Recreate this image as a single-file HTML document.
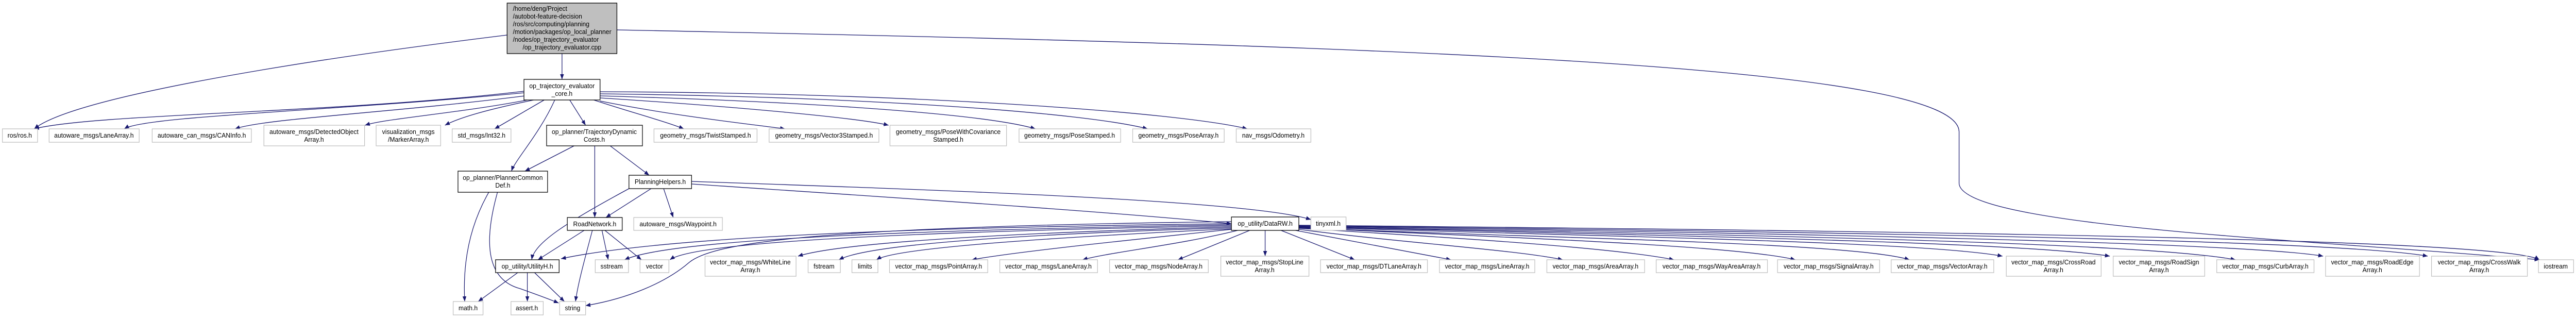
<!DOCTYPE html>
<html><head><meta charset="utf-8"><style>
html,body{margin:0;padding:0;background:#fff;width:100%;height:100%;overflow:hidden;}
svg{display:block;position:absolute;left:0;top:0;}
text{font-family:"Liberation Sans",sans-serif;font-size:13px;fill:#000;}
.l{fill:#fff;stroke:#bfbfbf;stroke-width:1.3}
.d{fill:#fff;stroke:#000;stroke-width:1.3}
.e{fill:none;stroke:#191970;stroke-width:1.3;marker-end:url(#a)}
</style></head><body>
<svg width="100%" height="100%" viewBox="0 0 5349 617" preserveAspectRatio="none" xmlns="http://www.w3.org/2000/svg">
<defs><marker id="a" markerUnits="userSpaceOnUse" markerWidth="11" markerHeight="8" refX="10" refY="4" orient="auto"><path d="M0,0 L10,4 L0,8 z" fill="#191970"/></marker></defs>
<path class="e" d="M1167,104 L1167,154"/>
<path class="e" d="M1053,68 C600,120 150,190 71,250"/>
<path class="e" d="M1281,58 C3000,90 4068,130 4068,256 L4068,355 C4068,440 4800,465 5273,504"/>
<path class="e" d="M1088,177 C700,220 200,220 71,250"/>
<path class="e" d="M1088,180 C700,215 300,225 258,250"/>
<path class="e" d="M1090,186 C800,220 550,230 488,250"/>
<path class="e" d="M1095,194 C950,220 800,230 758,243"/>
<path class="e" d="M1108,194 C1000,215 950,230 924,243"/>
<path class="e" d="M1130,194 L1027,250"/>
<path class="e" d="M1152,194 C1120,260 1070,310 1062,332"/>
<path class="e" d="M1183,194 L1216,243"/>
<path class="e" d="M1233,194 C1300,215 1380,235 1420,250"/>
<path class="e" d="M1246,196 C1400,225 1550,240 1630,250"/>
<path class="e" d="M1246,190 C1500,205 1780,228 1845,243"/>
<path class="e" d="M1246,186 C1700,198 2050,222 2150,250"/>
<path class="e" d="M1246,182 C1800,188 2250,218 2383,250"/>
<path class="e" d="M1246,178 C1900,180 2450,218 2590,250"/>
<path class="e" d="M1192,283 L1090,332"/>
<path class="e" d="M1235,283 L1235,422"/>
<path class="e" d="M1267,283 L1348,340"/>
<path class="e" d="M1352,366 L1258,422"/>
<path class="e" d="M1378,366 L1398,422"/>
<path class="e" d="M1306,366 C1180,430 1110,470 1104,504"/>
<path class="e" d="M1436,357 C1800,380 2300,410 2557,434"/>
<path class="e" d="M1436,352 C2000,370 2600,390 2722,426"/>
<path class="e" d="M1213,447 L1117,504"/>
<path class="e" d="M1250,447 L1263,504"/>
<path class="e" d="M1256,447 L1332,504"/>
<path class="e" d="M1230,447 C1215,500 1200,550 1195,585"/>
<path class="e" d="M1075,529 L993,585"/>
<path class="e" d="M1095,529 L1095,585"/>
<path class="e" d="M1110,529 L1172,585"/>
<path class="e" d="M1015,373 C980,430 960,500 965,585"/>
<path class="e" d="M1033,373 C1010,450 1000,540 1080,560 C1110,570 1140,580 1160,588"/>
<path class="e" d="M2557,434 C2000,440 1400,455 1165,502"/>
<path class="e" d="M2557,436 C2000,445 1400,460 1297,504"/>
<path class="e" d="M2557,438 C2000,448 1450,465 1391,504"/>
<path class="e" d="M2557,440 C2100,452 1750,470 1657,497"/>
<path class="e" d="M2557,442 C2100,455 1800,475 1742,504"/>
<path class="e" d="M2557,444 C2200,460 1860,480 1820,504"/>
<path class="e" d="M2557,430 C1700,440 1480,470 1430,510 C1380,550 1300,580 1216,593"/>
<path class="e" d="M2557,445 C2300,470 2100,490 2018,504"/>
<path class="e" d="M2570,447 C2450,475 2300,490 2248,504"/>
<path class="e" d="M2595,447 L2446,504"/>
<path class="e" d="M2627,447 L2627,497"/>
<path class="e" d="M2660,447 L2813,504"/>
<path class="e" d="M2690,447 L3013,504"/>
<path class="e" d="M2697,445 C2900,470 3150,485 3245,504"/>
<path class="e" d="M2697,443 C3000,460 3350,480 3476,504"/>
<path class="e" d="M2697,442 C3100,460 3600,475 3728,504"/>
<path class="e" d="M2697,442 C3200,462 3850,470 3965,504"/>
<path class="e" d="M2697,441 C3400,460 4000,470 4158,497"/>
<path class="e" d="M2697,440 C3500,458 4200,470 4381,497"/>
<path class="e" d="M2697,440 C3600,455 4450,470 4642,504"/>
<path class="e" d="M2697,439 C3700,452 4650,470 4824,497"/>
<path class="e" d="M2697,438 C3800,450 4850,465 5041,497"/>
<path class="e" d="M2697,437 C3900,448 5200,462 5273,504"/>
<rect x="1053" y="6" width="228" height="98" fill="#bfbfbf" stroke="#000" stroke-width="1.3"/>
<text x="1065" y="21">/home/deng/Project</text>
<text x="1065" y="36">/autobot-feature-decision</text>
<text x="1065" y="51">/ros/src/computing/planning</text>
<text x="1065" y="66">/motion/packages/op_local_planner</text>
<text x="1065" y="81">/nodes/op_trajectory_evaluator</text>
<text x="1167" y="96" text-anchor="middle">/op_trajectory_evaluator.cpp</text>
<rect class="d" x="1088" y="154" width="158" height="40"/>
<text x="1167" y="171" text-anchor="middle">op_trajectory_evaluator</text>
<text x="1167" y="186" text-anchor="middle">_core.h</text>
<g text-anchor="middle">
<rect class="l" x="5" y="250" width="73" height="26"/><text x="41" y="267">ros/ros.h</text>
<rect class="l" x="102" y="250" width="187" height="26"/><text x="195" y="267">autoware_msgs/LaneArray.h</text>
<rect class="l" x="316" y="250" width="206" height="26"/><text x="419" y="267">autoware_can_msgs/CANInfo.h</text>
<rect class="l" x="939" y="250" width="122" height="26"/><text x="1000" y="267">std_msgs/Int32.h</text>
<rect class="l" x="1358" y="250" width="214" height="26"/><text x="1465" y="267">geometry_msgs/TwistStamped.h</text>
<rect class="l" x="1597" y="250" width="228" height="26"/><text x="1711" y="267">geometry_msgs/Vector3Stamped.h</text>
<rect class="l" x="2116" y="250" width="211" height="26"/><text x="2221" y="267">geometry_msgs/PoseStamped.h</text>
<rect class="l" x="2352" y="250" width="190" height="26"/><text x="2447" y="267">geometry_msgs/PoseArray.h</text>
<rect class="l" x="2567" y="250" width="155" height="26"/><text x="2644" y="267">nav_msgs/Odometry.h</text>
<rect class="l" x="548" y="243" width="209" height="40"/><text x="652" y="260">autoware_msgs/DetectedObject</text><text x="652" y="275">Array.h</text>
<rect class="l" x="781" y="243" width="134" height="40"/><text x="848" y="260">visualization_msgs</text><text x="848" y="275">/MarkerArray.h</text>
<rect class="d" x="1135" y="243" width="199" height="40"/><text x="1234" y="260">op_planner/TrajectoryDynamic</text><text x="1234" y="275">Costs.h</text>
<rect class="l" x="1848" y="243" width="242" height="40"/><text x="1969" y="260">geometry_msgs/PoseWithCovariance</text><text x="1969" y="275">Stamped.h</text>
<rect class="d" x="951" y="332" width="186" height="41"/><text x="1044" y="349">op_planner/PlannerCommon</text><text x="1044" y="364">Def.h</text>
<rect class="d" x="1306" y="340" width="130" height="26"/><text x="1371" y="357">PlanningHelpers.h</text>
<rect class="d" x="1178" y="422" width="114" height="25"/><text x="1235" y="439">RoadNetwork.h</text>
<rect class="l" x="1316" y="422" width="184" height="25"/><text x="1408" y="439">autoware_msgs/Waypoint.h</text>
<rect class="d" x="2557" y="421" width="140" height="26"/><text x="2627" y="438">op_utility/DataRW.h</text>
<rect class="l" x="2722" y="421" width="73" height="26"/><text x="2758" y="438">tinyxml.h</text>
<rect class="d" x="1029" y="504" width="132" height="25"/><text x="1095" y="521">op_utility/UtilityH.h</text>
<rect class="l" x="1236" y="504" width="69" height="25"/><text x="1270" y="521">sstream</text>
<rect class="l" x="1329" y="504" width="60" height="25"/><text x="1359" y="521">vector</text>
<rect class="l" x="1678" y="504" width="67" height="25"/><text x="1711" y="521">fstream</text>
<rect class="l" x="1769" y="504" width="54" height="25"/><text x="1796" y="521">limits</text>
<rect class="l" x="1847" y="504" width="204" height="25"/><text x="1949" y="521">vector_map_msgs/PointArray.h</text>
<rect class="l" x="2076" y="504" width="203" height="25"/><text x="2177" y="521">vector_map_msgs/LaneArray.h</text>
<rect class="l" x="2304" y="504" width="205" height="25"/><text x="2406" y="521">vector_map_msgs/NodeArray.h</text>
<rect class="l" x="2742" y="504" width="222" height="25"/><text x="2853" y="521">vector_map_msgs/DTLaneArray.h</text>
<rect class="l" x="2989" y="504" width="198" height="25"/><text x="3088" y="521">vector_map_msgs/LineArray.h</text>
<rect class="l" x="3212" y="504" width="203" height="25"/><text x="3313" y="521">vector_map_msgs/AreaArray.h</text>
<rect class="l" x="3439" y="504" width="231" height="25"/><text x="3554" y="521">vector_map_msgs/WayAreaArray.h</text>
<rect class="l" x="3691" y="504" width="212" height="25"/><text x="3797" y="521">vector_map_msgs/SignalArray.h</text>
<rect class="l" x="3927" y="504" width="213" height="25"/><text x="4033" y="521">vector_map_msgs/VectorArray.h</text>
<rect class="l" x="4603" y="504" width="202" height="25"/><text x="4704" y="521">vector_map_msgs/CurbArray.h</text>
<rect class="l" x="5271" y="504" width="73" height="25"/><text x="5307" y="521">iostream</text>
<rect class="l" x="1464" y="497" width="189" height="39"/><text x="1558" y="513">vector_map_msgs/WhiteLine</text><text x="1558" y="528">Array.h</text>
<rect class="l" x="2535" y="497" width="183" height="39"/><text x="2626" y="513">vector_map_msgs/StopLine</text><text x="2626" y="528">Array.h</text>
<rect class="l" x="4166" y="497" width="197" height="39"/><text x="4264" y="513">vector_map_msgs/CrossRoad</text><text x="4264" y="528">Array.h</text>
<rect class="l" x="4388" y="497" width="190" height="39"/><text x="4483" y="513">vector_map_msgs/RoadSign</text><text x="4483" y="528">Array.h</text>
<rect class="l" x="4829" y="497" width="195" height="39"/><text x="4926" y="513">vector_map_msgs/RoadEdge</text><text x="4926" y="528">Array.h</text>
<rect class="l" x="5049" y="497" width="199" height="39"/><text x="5148" y="513">vector_map_msgs/CrossWalk</text><text x="5148" y="528">Array.h</text>
<rect class="l" x="941" y="585" width="62" height="26"/><text x="972" y="602">math.h</text>
<rect class="l" x="1061" y="585" width="67" height="26"/><text x="1094" y="602">assert.h</text>
<rect class="l" x="1162" y="585" width="54" height="26"/><text x="1189" y="602">string</text>
</g>
</svg>
</body></html>
